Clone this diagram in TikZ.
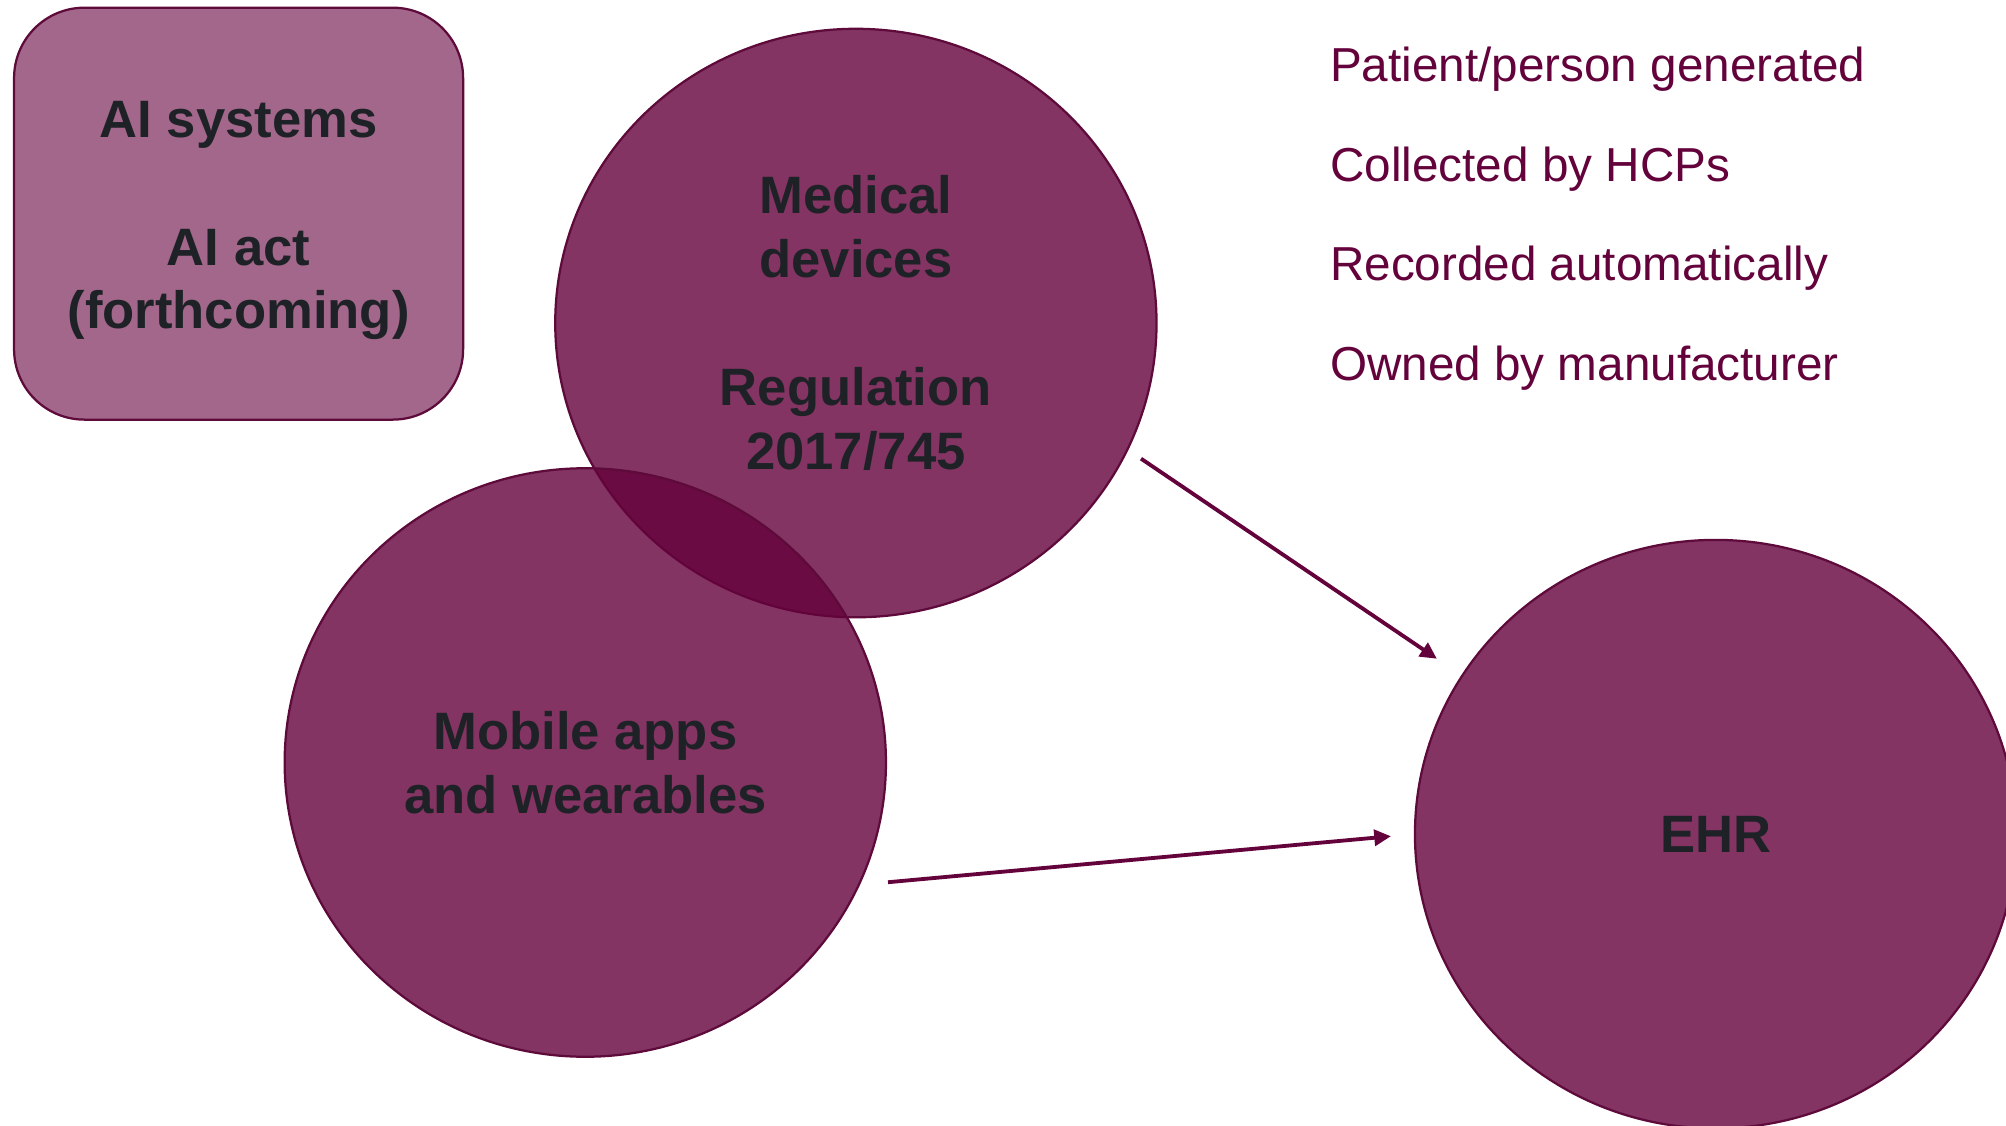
\documentclass[tikz,border=0pt]{standalone}
\usepackage{fontspec}
\setmainfont{Liberation Sans}
\usetikzlibrary{shapes.geometric}
\usetikzlibrary{arrows.meta}
\definecolor{plum}{RGB}{100,2,60}
\definecolor{plumline}{RGB}{94,10,58}
\definecolor{inkgray}{RGB}{30,34,38}
\tikzset{%
  myedge/.style={->, >={Triangle[length=1.3mm,width=1.25mm]}, draw=plum, fill=plum, line width=0.85pt},
  mycircle/.style={ellipse, draw=plumline, fill=plum, fill opacity=0.8, text opacity=1, line width=0.5pt,
    minimum width=4.7cm, minimum height=4.6cm, inner sep=0pt, text=inkgray, align=center,
    font=\bfseries\fontsize{11.7}{14.2}\selectfont},
  mybox/.style={rectangle, rounded corners=0.55cm, draw=plumline, fill=plum, fill opacity=0.6,
    line width=0.5pt, minimum width=3.51cm, minimum height=3.22cm, inner sep=0pt},
  mytext/.style={inner sep=0pt, text=inkgray, align=center, font=\bfseries\fontsize{11.7}{14.2}\selectfont},
  mylist/.style={anchor=base west, inner sep=0pt, text=plum, font=\fontsize{10.6}{12.7}\selectfont}
}

\begin{document}
\begin{tikzpicture}
  \tikzset{myedge/.style={->, >={Triangle[length=1.3mm,width=1.25mm]}, draw=plum, fill=plum, line width=0.85pt}};

\useasboundingbox [fill=white] (0,0) rectangle (15.68,-8.80);

\node [mybox] (ai) at (1.865,-1.67) {};
\node [mytext, yshift=-0.055cm] (aitext) at (ai) {AI systems\\[14.2pt]AI act\\(forthcoming)};

\node [mycircle] (med) at (6.69,-2.525) {Medical\\devices\\[14.2pt]Regulation\\2017/745};
\node [mycircle] (mob) at (4.575,-5.96) {Mobile apps\\and wearables};
\node [mycircle] (ehr) at (13.41,-6.52) {EHR};

\foreach \t [count=\k] in {{Patient/person generated}, {Collected by HCPs}, {Recorded automatically}, {Owned by manufacturer}} {
  \node [mylist] (L\k) at (10.39, {-0.635-0.78*(\k-1)}) {\t};
}

% データの流れ
\draw [myedge, shorten <=0.12cm, shorten >=0.23cm] (med.-25) -- (ehr.148);
\draw [myedge, shorten <=0.22cm, shorten >=0.18cm] (mob.-24.5) -- (ehr.180);
\end{tikzpicture}
\end{document}
